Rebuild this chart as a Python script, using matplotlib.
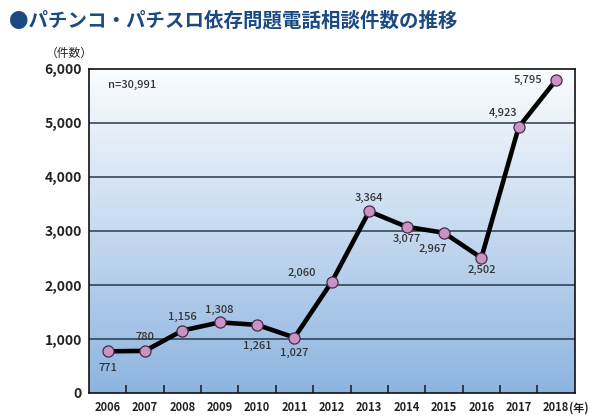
import matplotlib
matplotlib.use("Agg")
import matplotlib.pyplot as plt
import numpy as np
from matplotlib.colors import LinearSegmentedColormap

plt.rcParams['font.family'] = ['Noto Sans CJK JP', 'DejaVu Sans']

years = ['2006', '2007', '2008', '2009', '2010', '2011', '2012',
         '2013', '2014', '2015', '2016', '2017', '2018']
counts = [771, 780, 1156, 1308, 1261, 1027, 2060, 3364, 3077, 2967, 2502, 4923, 5795]
label_offsets = [(0, -12), (0, 10), (0, 10), (0, 9), (0, -15), (0, -11), (-22, 6),
                 (0, 10), (0, -9), (-8, -12), (0, -9), (-11, 10), (-20, 0)]
yticks = [0, 1000, 2000, 3000, 4000, 5000, 6000]

fig = plt.figure(figsize=(6.05, 4.17), dpi=100)
ax = fig.add_axes([0.147, 0.0576, 0.803, 0.777])

x = np.arange(len(years))
ax.set_xlim(-0.5, len(years) - 0.5)
ax.set_ylim(0, 6000)

# gradient background
cmap = LinearSegmentedColormap.from_list('bg', ['#8db4e0', '#c6daf0', '#fbfdff'])
grad = np.linspace(0, 1, 256).reshape(-1, 1)
ax.imshow(grad, extent=(-0.5, len(years) - 0.5, 0, 6000), origin='lower',
          aspect='auto', cmap=cmap, zorder=0)

for yv in yticks[1:-1]:
    ax.axhline(yv, color='#2a3a4a', lw=1.1, zorder=1)

ax.plot(x, counts, color='black', lw=3.3, zorder=2, solid_joinstyle='round')
ax.plot(x, counts, 'o', ms=8, mfc='#c994c4', mec='#4a2a48', mew=0.9, zorder=3)

for xi, v, (dx, dy) in zip(x, counts, label_offsets):
    ax.annotate(f'{v:,}', (xi, v), xytext=(dx, dy), textcoords='offset points',
                ha='center', va='center', fontsize=8, fontweight='medium',
                color='#333333', zorder=4)

ax.set_yticks(yticks)
ax.set_yticklabels([f'{v:,}' for v in yticks], fontsize=10, fontweight='bold',
                   color='#222222')
ax.set_xticks(x)
ax.set_xticklabels(years, fontsize=8, fontweight='bold', color='#222222')
ax.tick_params(axis='x', length=0, pad=6)
ax.tick_params(axis='y', length=0, pad=5)
ax.set_xticks(np.arange(0.5, len(years) - 0.5), minor=True)
ax.tick_params(axis='x', which='minor', direction='in', length=6, width=1.2, color='#222222')
for s in ax.spines.values():
    s.set_color('#111111')
    s.set_linewidth(1.2)

# year unit after the last tick label
ax.annotate('(年)', (len(years) - 1, 0), xytext=(9, -6), textcoords='offset points',
            ha='left', va='top', fontsize=8, fontweight='bold', color='#222222',
            annotation_clip=False)

ax.text(0.04, 0.95, 'n=30,991', transform=ax.transAxes, fontsize=8,
        fontweight='medium', color='#333333', ha='left', va='center')

fig.text(0.015, 0.950, '●パチンコ・パチスロ依存問題電話相談件数の推移', fontsize=14,
         fontweight='bold', color='#1b4a82', ha='left', va='center')
fig.text(0.075, 0.872, '（件数）', fontsize=8.5, color='#222222',
         ha='left', va='center')

fig.savefig('out.png', dpi=100)
